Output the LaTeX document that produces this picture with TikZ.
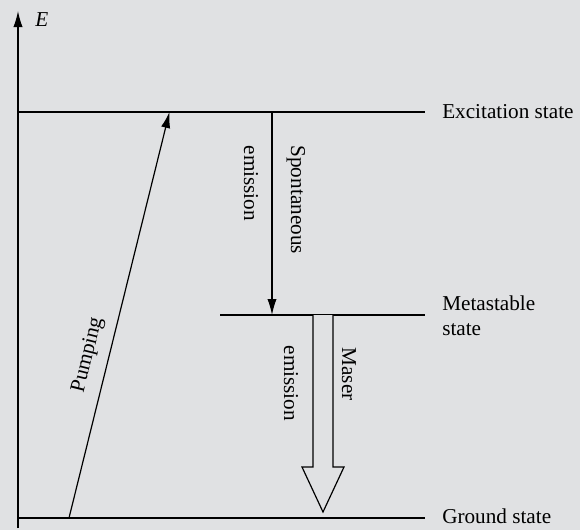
\documentclass[tikz,border=0pt]{standalone}
\usepackage{fontspec}
\setmainfont{Liberation Serif}
\usetikzlibrary{arrows.meta}
\definecolor{bggray}{RGB}{224,225,227}

\begin{document}
\begin{tikzpicture}[x=0.5pt, y=-0.5pt, >={Latex[length=8pt,width=4.6pt]},
    line width=0.6pt, font=\fontsize{10.6}{12.5}\selectfont,
    vlabel/.style={rotate=-90, anchor=west, inner sep=0pt}]
        % --- 1. Parameters ---
        \def\axisX{18}
        \def\levelEnd{425}
        \def\yExc{112}
        \def\yMeta{315}
        \def\yGround{518}
        \def\labelX{435}

        % --- 2. Background ---
        \fill[bggray] (0,0) rectangle (580,530);
        \useasboundingbox (0,0) rectangle (580,530);

        % --- 3. Energy axis ---
        \coordinate (AxisBot) at (\axisX,528);
        \coordinate (AxisTop) at (\axisX,11);
        \draw[->] (AxisBot) -- (AxisTop);
        \node[anchor=west] (Elabel) at (28,20) {\textit{E}};

        % --- 4. Energy levels ---
        \coordinate (ExcL) at (\axisX,\yExc);
        \coordinate (ExcR) at (\levelEnd,\yExc);
        \draw (ExcL) -- (ExcR);
        \node[anchor=west] (ExcLabel) at (\labelX,\yExc) {Excitation state};

        \coordinate (MetaL) at (220,\yMeta);
        \coordinate (MetaR) at (\levelEnd,\yMeta);
        \draw (MetaL) -- (MetaR);
        \node[anchor=west, align=left] (MetaLabel) at (\labelX,316) {Metastable\\state};

        \coordinate (GroundL) at (\axisX,\yGround);
        \coordinate (GroundR) at (\levelEnd,\yGround);
        \draw (GroundL) -- (GroundR);
        \node[anchor=west] (GroundLabel) at (\labelX,516) {Ground state};

        % --- 5. Transitions ---
        % Pumping: ground -> excitation
        \coordinate (PumpBot) at (69,\yGround);
        \coordinate (PumpTop) at (169.5,\yExc);
        \draw[->] (PumpBot) -- (PumpTop);
        \node[rotate=76, inner sep=1pt] (PumpLabel) at (88,355) {Pumping};

        % Spontaneous emission: excitation -> metastable
        \coordinate (SpontTop) at (272,\yExc);
        \coordinate (SpontBot) at (272,\yMeta);
        \draw[->] (SpontTop) -- (SpontBot);
        \node[vlabel] (SpontA) at (296,145) {Spontaneous};
        \node[vlabel] (SpontB) at (251,145) {emission};

        % Maser emission: hollow block arrow metastable -> ground
        \draw[fill=bggray] (313,\yMeta) -- (313,467) -- (302,467) -- (323,512)
            -- (344,467) -- (333,467) -- (333,\yMeta);
        \node[vlabel] (MaserA) at (349,347) {Maser};
        \node[vlabel] (MaserB) at (291,345) {emission};

    \end{tikzpicture}
\end{document}
